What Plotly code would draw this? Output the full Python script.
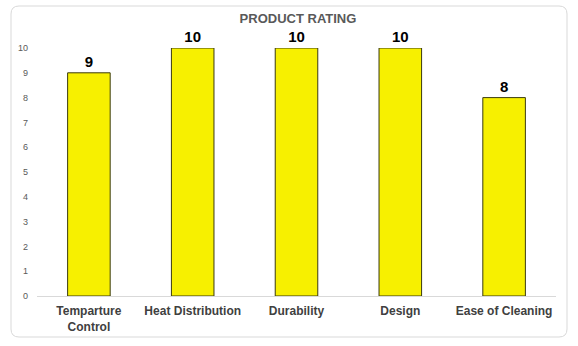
import plotly.graph_objects as go

categories = ["Temparture<br>Control", "Heat Distribution", "Durability", "Design", "Ease of Cleaning"]
ratings = [9, 10, 10, 10, 8]
y_ticks = list(range(0, 11))

W, H = 578, 346
L, R, T, B = 37, 22, 48, 50
pw, ph = W - L - R, H - T - B

fig = go.Figure(go.Bar(
    x=categories,
    y=ratings,
    marker=dict(color="#F7F000", line=dict(color="#3A3A10", width=1)),
    text=[str(v) for v in ratings],
    textposition="outside",
    textfont=dict(family="Liberation Sans, Arial", size=15, color="#000000"),
    texttemplate="<b>%{text}</b>",
    cliponaxis=False,
    width=0.41,
))

# rounded chart border in paper coordinates
def px(x):
    return (x - L) / pw

def py(y):
    return (H - B - y) / ph

x0, x1, y0, y1, r = 11, 567, 6, 337, 8
path = (
    f"M {px(x0 + r)} {py(y0)} L {px(x1 - r)} {py(y0)} "
    f"Q {px(x1)} {py(y0)} {px(x1)} {py(y0 + r)} "
    f"L {px(x1)} {py(y1 - r)} Q {px(x1)} {py(y1)} {px(x1 - r)} {py(y1)} "
    f"L {px(x0 + r)} {py(y1)} Q {px(x0)} {py(y1)} {px(x0)} {py(y1 - r)} "
    f"L {px(x0)} {py(y0 + r)} Q {px(x0)} {py(y0)} {px(x0 + r)} {py(y0)} Z"
)

fig.update_layout(
    width=W, height=H,
    margin=dict(l=L, r=R, t=T, b=B),
    paper_bgcolor="white", plot_bgcolor="white",
    showlegend=False,
    title=dict(
        text="<b>PRODUCT RATING</b>",
        x=298 / W, xanchor="center",
        y=1 - 18 / H, yanchor="middle",
        font=dict(family="Liberation Sans, Arial", size=13, color="#595959"),
    ),
    shapes=[dict(type="path", path=path, xref="paper", yref="paper",
                 line=dict(color="#D9D9D9", width=1), layer="below")],
    bargap=0.6,
)
fig.update_xaxes(
    showline=True, linecolor="#D9D9D9", linewidth=1,
    showgrid=False, ticks="", ticklabelstandoff=4,
    tickprefix="<b>", ticksuffix="</b>",
    tickfont=dict(family="Liberation Sans, Arial", size=12, color="#404040"),
)
fig.update_yaxes(
    range=[0, 10], tickvals=y_ticks, showgrid=False, zeroline=False,
    showline=False, ticks="", ticklabelstandoff=8,
    tickfont=dict(family="Liberation Sans, Arial", size=9, color="#595959"),
)

fig.write_html("out.html")
